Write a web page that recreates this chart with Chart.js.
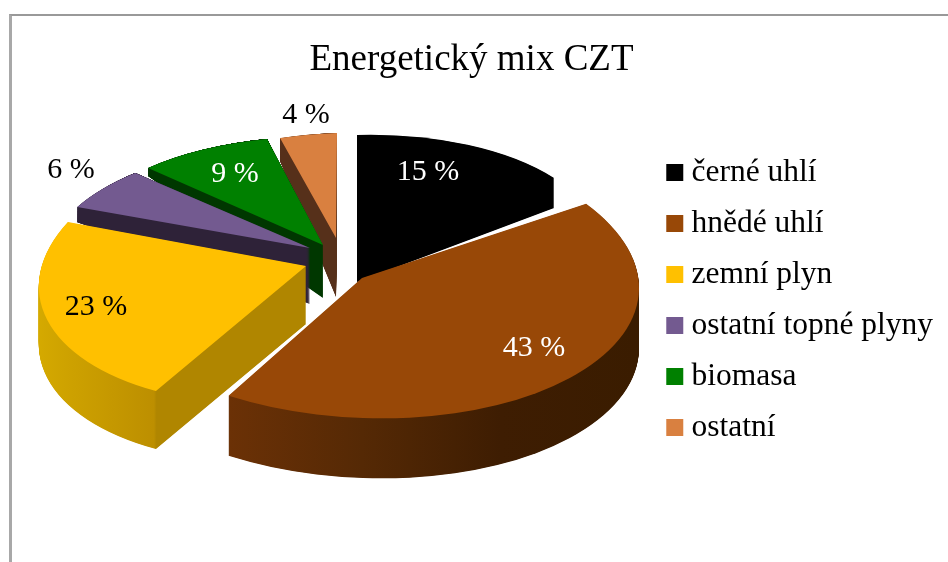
<!DOCTYPE html>
<html><head><meta charset="utf-8">
<style>
html,body{margin:0;padding:0;background:#fff;overflow:hidden}
#frame{position:absolute;left:9px;top:14px;width:960px;height:600px;border-left:3px solid #a8a8a8;border-top:2px solid #999;box-sizing:border-box}
canvas{position:absolute;left:0;top:0}
</style>
<script src="https://cdn.jsdelivr.net/npm/chart.js@4"></script>
</head><body><div id="frame"></div><canvas id="c" width="948" height="562"></canvas>
<script>
const titleText = 'Energetický mix CZT';
const categories = ['černé uhlí','hnědé uhlí','zemní plyn','ostatní topné plyny','biomasa','ostatní'];
const shares = [15,43,23,6,9,4];
const topColors = ['#000000','#984807','#ffc000','#735a90','#008000','#d98040'];
const labelColors = ['#fff','#fff','#000','#000','#fff','#000'];
// Look of each 3D wedge: apex, projection matrix [A,B,C,D], extrusion [depth, shearP, shearQ]
const apexes = [[357,252],[362,278],[306,266],[310,248],[323,245],[336,238]];
const matrices = [[243.5,0,-6.4,117],[277,0,10,140],[266,-25,-7.5,138.5],[258,-19.4,1.2,108.2],[244.7,-5,3.8,108.4],[229,-1,-7,105]];
const extrusions = [[30,0,0],[60,0,0],[58,0,0],[56,20,60],[53,13.6,51.2],[59,-85,59]];
const sideStops = [
  [[0,'#000000'],[1,'#000000']],
  [[0.26,'#6b3106'],[0.5,'#552905'],[0.75,'#3e1d02'],[1,'#3a1c00']],
  [[0,'#d5aa00'],[0.255,'#bd8f00'],[0.26,'#b08600'],[1,'#b08600']],
  [[0,'#2e2238'],[1,'#2e2238']],
  [[0,'#003700'],[1,'#003700']],
  [[0,'#56301a'],[1,'#56301a']]
];
const labelOffsets = [[71,-80],[172,70],[-210,41],[-239,-78],[-88,-71],[-30,-123]];
const drawOrder = [5,4,3,0,2,1];

function place(ctx, arc, apex, m){
  const R = arc.outerRadius;
  ctx.translate(apex[0], apex[1]);
  ctx.transform(m[0]/R, m[2]/R, m[1]/R, m[3]/R, 0, 0);
  ctx.translate(-arc.x, -arc.y);
}
function paint(ctx, arc, fill){
  const saved = arc.options;
  arc.options = {backgroundColor:fill,borderColor:fill,borderWidth:0,borderAlign:'center',borderRadius:0,
    circular:true,offset:0,spacing:0,borderJoinStyle:'round'};
  arc.draw(ctx);
  arc.options = saved;
}
const wedge3d = {
  id:'wedge3d',
  beforeDatasetsDraw(chart){
    const ctx = chart.ctx, arcs = chart.getDatasetMeta(0).data;
    for (const i of drawOrder){
      const arc = arcs[i], R = arc.outerRadius, m = matrices[i], a = apexes[i], e = extrusions[i];
      const g = ctx.createLinearGradient(arc.x-R,0,arc.x+R,0);
      sideStops[i].forEach(s=>g.addColorStop(s[0],s[1]));
      const steps = Math.ceil(e[0]*2);
      for (let s=steps; s>=1; s--){
        const t = s/steps;
        ctx.save();
        place(ctx, arc, [a[0], a[1]+e[0]*t], [m[0], m[1], m[2]+e[1]*t, m[3]+e[2]*t]);
        paint(ctx, arc, g);
        ctx.restore();
      }
      ctx.save();
      place(ctx, arc, a, m);
      paint(ctx, arc, topColors[i]);
      ctx.restore();
    }
    ctx.save();
    ctx.font = '30px "Liberation Serif"';
    ctx.textAlign = 'center';
    ctx.textBaseline = 'middle';
    shares.forEach((v,i)=>{
      ctx.fillStyle = labelColors[i];
      ctx.fillText(v+' %', apexes[i][0]+labelOffsets[i][0], apexes[i][1]+labelOffsets[i][1]);
    });
    ctx.restore();
    return false;
  }
};
new Chart(document.getElementById('c'),{
  type:'pie',
  data:{labels:categories,datasets:[{data:shares,backgroundColor:topColors,borderWidth:0}]},
  plugins:[wedge3d],
  options:{
    responsive:false,animation:false,
    layout:{padding:{top:38,right:5,bottom:0,left:0}},
    plugins:{
      tooltip:{enabled:false},
      title:{display:true,text:titleText,color:'#000',font:{family:'"Liberation Serif"',size:37,weight:'normal'},padding:{top:0,bottom:0}},
      legend:{position:'right',labels:{color:'#000',font:{family:'"Liberation Serif"',size:31.5},
        boxWidth:2,boxHeight:17,usePointStyle:true,pointStyle:'rect',padding:19.5}}
    }
  }
});
</script></body></html>
